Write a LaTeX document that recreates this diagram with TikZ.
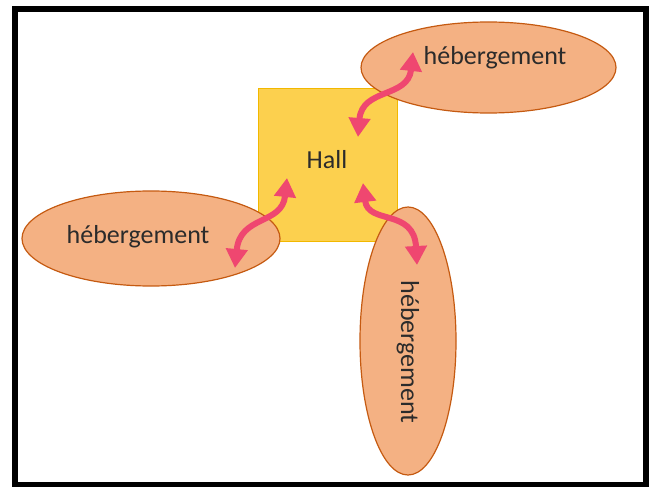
\documentclass[tikz,border=0pt]{standalone}
\usepackage{fontspec}
\setmainfont{Carlito}
\usetikzlibrary{shapes.geometric,arrows.meta}
\definecolor{ellfill}{HTML}{F4B183}
\definecolor{elldraw}{HTML}{C55A11}
\definecolor{hallfill}{HTML}{FCD04E}
\definecolor{halldraw}{HTML}{F2B800}
\definecolor{arrowpink}{HTML}{EF4770}
\definecolor{txt}{HTML}{2B2B2B}
\tikzset{
  ellbox/.style={ellipse, draw=elldraw, fill=ellfill, line width=1.2pt, inner sep=0pt},
  hallbox/.style={rectangle, draw=halldraw, fill=hallfill, line width=1pt, inner sep=0pt},
  lbl/.style={text=txt, font=\fontsize{26}{30}\selectfont, inner sep=0pt},
  dblarrow/.style={draw=arrowpink, line width=6pt, {Triangle[length=19pt,width=21pt]}-{Triangle[length=19pt,width=21pt]}}
}
\begin{document}
\begin{tikzpicture}[x=1pt,y=-1pt]
\useasboundingbox (0,0) rectangle (654,487);
\fill[white] (0,0) rectangle (654,487);
\draw[line width=6pt] (14.5,9) rectangle (646,485);
% Hall
\node[hallbox, minimum width=139pt, minimum height=152pt] (hall) at (327.5,165) {};
\node[lbl] (halltxt) at (327,160) {Hall};
% ellipses
\node[ellbox, minimum width=255pt, minimum height=91pt] (etr) at (488.5,67.5) {};
\node[lbl] (etrtxt) at (495,58) {hébergement};
\node[ellbox, minimum width=258pt, minimum height=95pt] (el) at (151,238.5) {};
\node[lbl] (eltxt) at (138,237) {hébergement};
\node[ellbox, minimum width=96pt, minimum height=268pt] (eb) at (408,341) {};
\node[lbl, rotate=-90] (ebtxt) at (408,352) {hébergement};
% arrows
\coordinate (a1) at (413,52);
\coordinate (a2) at (358,137);
\coordinate (b1) at (287,178);
\coordinate (b2) at (235,268);
\coordinate (c1) at (363,183);
\coordinate (c2) at (417,265);
\draw[dblarrow] (a1) .. controls (408,98) and (362,88) .. (a2);
\draw[dblarrow] (b1) .. controls (282,225) and (240,215) .. (b2);
\draw[dblarrow] (c1) .. controls (368,225) and (414,208) .. (c2);
\end{tikzpicture}
\end{document}
